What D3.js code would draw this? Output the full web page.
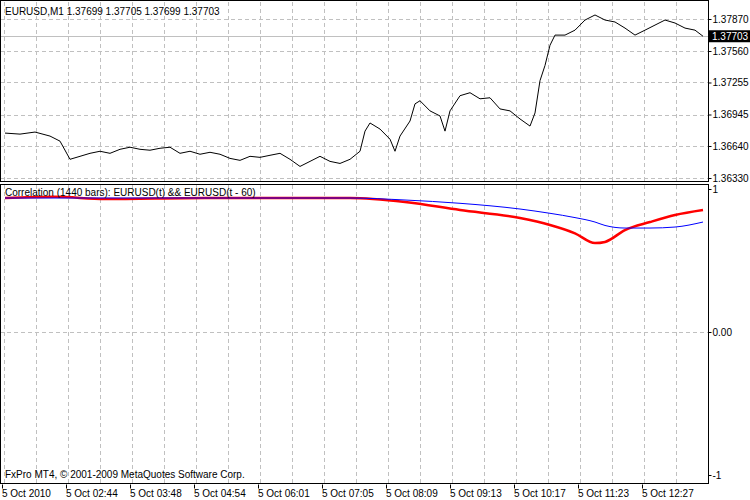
<!DOCTYPE html>
<html><head><meta charset="utf-8">
<script src="https://cdn.jsdelivr.net/npm/d3@7"></script>
<style>body{margin:0;background:#fff}text{font-family:"Liberation Sans",Arial,sans-serif;font-size:10px}</style>
</head><body>
<script>
// minutes from 01:40, price
const priceMin = [0,15,30,45,55,65,75,85,95,105,115,125,135,145,155,165,175,185,195,205,215,225,235,245,255,265,275,285,295,305,315,325,335,345,355,360,365,375,385,390,395,405,410,415,425,435,440,445,455,465,475,485,495,505,515,525,530,535,540,545,550,560,570,580,590,600,610,620,630,640,650,660,670,680,690,698];
const price = [1.36765,1.36755,1.36775,1.36736,1.36687,1.36511,1.36540,1.36569,1.36589,1.36569,1.36608,1.36628,1.36608,1.36599,1.36618,1.36628,1.36569,1.36589,1.36560,1.36579,1.36560,1.36520,1.36501,1.36540,1.36530,1.36550,1.36569,1.36511,1.36442,1.36491,1.36540,1.36491,1.36471,1.36511,1.36589,1.36784,1.36863,1.36804,1.36706,1.36589,1.36736,1.36882,1.37048,1.37078,1.36980,1.36931,1.36784,1.36980,1.37127,1.37156,1.37097,1.37107,1.36999,1.36980,1.36902,1.36833,1.36960,1.37273,1.37420,1.37616,1.37714,1.37714,1.37762,1.37860,1.37909,1.37860,1.37841,1.37782,1.37714,1.37762,1.37811,1.37860,1.37831,1.37782,1.37762,1.37703];
const corrMin = [0,50,100,200,300,345,400,455,515,545,570,590,600,620,645,670,698];
const blueCorr = [0.937,0.937,0.937,0.937,0.937,0.937,0.923,0.900,0.860,0.830,0.800,0.769,0.745,0.727,0.727,0.734,0.769];
const redCorr = [0.937,0.945,0.930,0.937,0.937,0.937,0.909,0.853,0.797,0.748,0.690,0.622,0.630,0.713,0.769,0.818,0.853];
const priceTicks = [1.37870,1.37560,1.37255,1.36945,1.36640,1.36330];
const timeLabels = ["5 Oct 2010","5 Oct 02:44","5 Oct 03:48","5 Oct 04:54","5 Oct 06:01","5 Oct 07:05","5 Oct 08:09","5 Oct 09:13","5 Oct 10:17","5 Oct 11:23","5 Oct 12:27"];
const lastPrice = 1.37703;

const W = 750, H = 500, right = 708;
const svg = d3.select("body").append("svg").attr("width", W).attr("height", H);
const x = d3.scaleLinear().domain([0, 703]).range([5, 708]);
const yP = d3.scaleLinear().domain([1.36330, 1.37870]).range([178, 19]);
const yC = d3.scaleLinear().domain([-1, 1]).range([475, 189]);

// vertical grid
const gx = d3.range(4, right, 32);
[[2,181],[185,483]].forEach(([t,b]) => {
  svg.append("g").selectAll("line").data(gx).join("line")
    .attr("x1", d => d + 0.5).attr("x2", d => d + 0.5).attr("y1", t).attr("y2", b)
    .attr("stroke", "#c0c0c0").attr("stroke-dasharray", "4,3");
});
svg.append("g").selectAll("line").data(priceTicks).join("line")
  .attr("x1", 0).attr("x2", right).attr("y1", d => Math.round(yP(d)) + 0.5).attr("y2", d => Math.round(yP(d)) + 0.5)
  .attr("stroke", "#c0c0c0").attr("stroke-dasharray", "4,3");
svg.append("g").selectAll("line").data([0]).join("line")
  .attr("x1", 0).attr("x2", right).attr("y1", d => Math.round(yC(d)) + 0.5).attr("y2", d => Math.round(yC(d)) + 0.5)
  .attr("stroke", "#c0c0c0").attr("stroke-dasharray", "4,3");
// last price line
svg.append("line").attr("x1", 0).attr("x2", right).attr("y1", Math.round(yP(lastPrice)) + 0.5).attr("y2", Math.round(yP(lastPrice)) + 0.5).attr("stroke", "#c0c0c0");

// frames
svg.append("rect").attr("x", 0.5).attr("y", 0.5).attr("width", right).attr("height", 181).attr("fill", "none").attr("stroke", "#000");
svg.append("rect").attr("x", 0.5).attr("y", 184.5).attr("width", right).attr("height", 299).attr("fill", "none").attr("stroke", "#000");

// price line
svg.append("path").datum(priceMin.map((m, i) => [m, price[i]]))
  .attr("d", d3.line().x(d => x(d[0])).y(d => yP(d[1])))
  .attr("fill", "none").attr("stroke", "#000").attr("stroke-width", 1);

// correlation lines
svg.append("path").datum(corrMin.map((m, i) => [m, redCorr[i]]))
  .attr("d", d3.line().curve(d3.curveMonotoneX).x(d => x(d[0])).y(d => yC(d[1])))
  .attr("fill", "none").attr("stroke", "#ff0000").attr("stroke-width", 2.5);
svg.append("path").datum(corrMin.map((m, i) => [m, blueCorr[i]]))
  .attr("d", d3.line().curve(d3.curveMonotoneX).x(d => x(d[0])).y(d => yC(d[1])))
  .attr("fill", "none").attr("stroke", "#0000ff").attr("stroke-width", 1);

// right axes
const yAx = svg.append("g").attr("transform", `translate(${right + 0.5},0)`)
  .call(d3.axisRight(yP).tickValues(priceTicks).tickFormat(d3.format(".5f")).tickSize(3));
yAx.select(".domain").remove();
yAx.selectAll("text").attr("fill", "#000").attr("x", 4).style("font-size", "10px").style("font-family", "Liberation Sans");
const cAx = svg.append("g").attr("transform", `translate(${right + 0.5},0)`)
  .call(d3.axisRight(yC).tickValues([1, 0, -1]).tickFormat(d => d === 0 ? "0.00" : d).tickSize(3));
cAx.select(".domain").remove();
cAx.selectAll("text").attr("fill", "#000").attr("x", 4).style("font-size", "10px").style("font-family", "Liberation Sans");
// last price tag
svg.append("rect").attr("x", right + 1).attr("y", yP(lastPrice) - 6).attr("width", 41).attr("height", 12).attr("fill", "#000");
svg.append("text").attr("x", right + 4).attr("y", yP(lastPrice) + 4).attr("fill", "#fff").text(d3.format(".5f")(lastPrice));

// bottom time labels
const tAx = svg.append("g").attr("transform", "translate(0,484.5)");
tAx.selectAll("line").data(timeLabels).join("line")
  .attr("x1", (d, i) => x(i * 64) - 2.5).attr("x2", (d, i) => x(i * 64) - 2.5).attr("y1", 0).attr("y2", 4).attr("stroke", "#000");
tAx.selectAll("text").data(timeLabels).join("text")
  .attr("x", (d, i) => x(i * 64) - 3).attr("y", 12).text(d => d);

svg.append("text").attr("x", 5).attr("y", 15).text("EURUSD,M1  1.37699 1.37705 1.37699 1.37703");
svg.append("text").attr("x", 5).attr("y", 196).text("Correlation (1440 bars): EURUSD(t) && EURUSD(t - 60)");
svg.append("text").attr("x", 5).attr("y", 478).text("FxPro MT4, © 2001-2009 MetaQuotes Software Corp.");
</script>
</body></html>
